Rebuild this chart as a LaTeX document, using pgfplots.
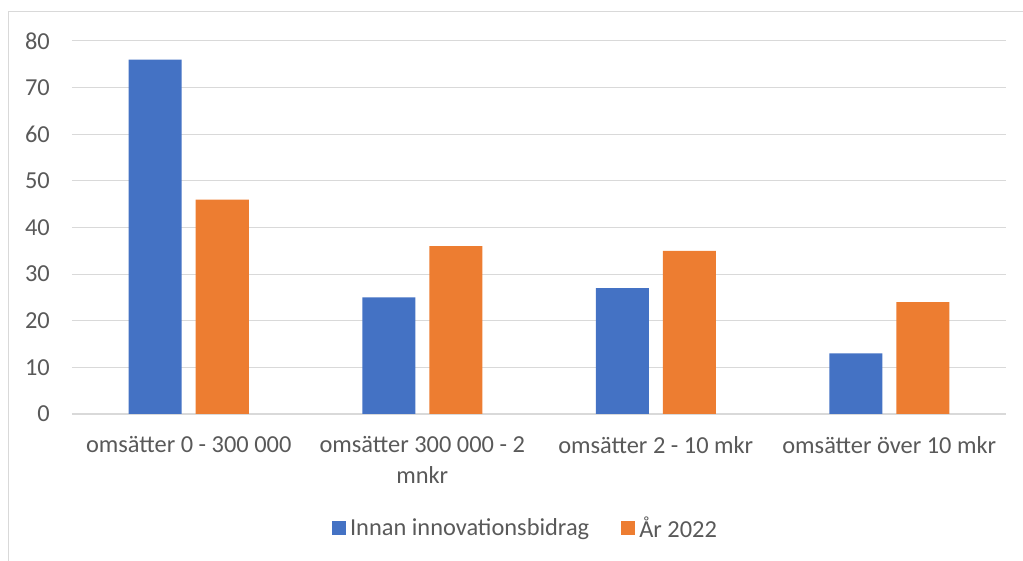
\documentclass[border=0pt]{standalone}
\usepackage{fontspec}
\setmainfont{Carlito}
\usepackage{pgfplots}
\pgfplotsset{compat=1.18}
\definecolor{cblue}{HTML}{4472C4}
\definecolor{corange}{HTML}{ED7D31}
\definecolor{ctext}{HTML}{595959}
\definecolor{cgrid}{HTML}{D9D9D9}
\begin{document}
\begin{tikzpicture}
\begin{axis}[
  scale only axis, width=934pt, height=373pt,
  xmin=-0.5, xmax=3.5, ymin=0, ymax=80,
  ybar=14pt, bar width=53pt,
  xtick={0,1,2,3},
  xticklabels={omsätter 0 - 300 000, {omsätter 300 000 - 2\\mnkr}, omsätter 2 - 10 mkr, omsätter över 10 mkr},
  ytick={0,10,20,30,40,50,60,70,80},
  ymajorgrids, grid style={cgrid, line width=1pt},
  axis x line*=bottom, axis y line*=left,
  y axis line style={draw=none},
  x axis line style={cgrid, line width=1.2pt, -},
  major tick length=0pt,
  tick style={draw=none},
  /pgf/number format/assume math mode=true,
  xticklabel style={font=\fontsize{24.4pt}{31pt}\selectfont, text=ctext, align=center, inner sep=0pt, yshift=-22pt},
  yticklabel style={font=\fontsize{24.4pt}{28pt}\selectfont, text=ctext, inner sep=0pt, xshift=-22pt},
  legend image code/.code={\fill[#1,draw=none] (0pt,-7pt) rectangle (14pt,7pt);},
  legend style={draw=none, fill=none, font=\fontsize{24.4pt}{28pt}\selectfont, text=ctext,
    at={(axis description cs:0.4866,-0.3056)}, anchor=center,
    legend columns=2, /tikz/every even column/.append style={column sep=28pt},
    nodes={inner xsep=4pt, inner ysep=2pt}},
  legend cell align=left,
  clip=false,
]
\addplot[fill=cblue, draw=none] coordinates {(0,76) (1,25) (2,27) (3,13)};
\addplot[fill=corange, draw=none] coordinates {(0,46) (1,36) (2,35) (3,24)};
\legend{Innan innovationsbidrag, År 2022}
\end{axis}
\draw[cgrid, line width=1pt] (current axis.south west) ++(-63pt,-147pt) -- ++(0pt,549pt) -- ++(1020pt,0pt);
\pgfresetboundingbox
\path (current axis.south west) ++(-72pt,-147pt) rectangle ++(1023pt,561pt);
\end{tikzpicture}
\end{document}
